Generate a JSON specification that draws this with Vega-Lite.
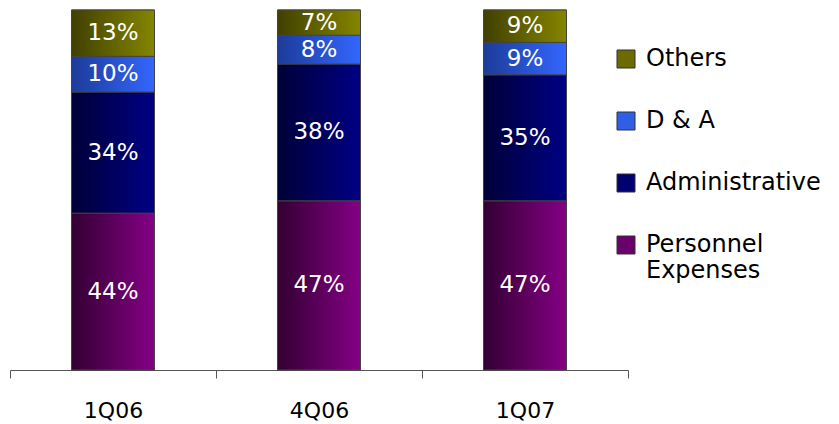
{
  "$schema": "https://vega.github.io/schema/vega-lite/v6.json",
  "width": 618,
  "height": 360,
  "autosize": {"type": "none"},
  "padding": {"left": 10, "top": 10, "right": 211, "bottom": 54},
  "background": "white",
  "config": {"view": {"stroke": null}, "font": "DejaVu Sans"},
  "data": {
    "values": [
      {"q": "1Q06", "cat": "Personnel Expenses", "ord": 1, "v": 44},
      {"q": "1Q06", "cat": "Administrative", "ord": 2, "v": 34},
      {"q": "1Q06", "cat": "D & A", "ord": 3, "v": 10},
      {"q": "1Q06", "cat": "Others", "ord": 4, "v": 13},
      {"q": "4Q06", "cat": "Personnel Expenses", "ord": 1, "v": 47},
      {"q": "4Q06", "cat": "Administrative", "ord": 2, "v": 38},
      {"q": "4Q06", "cat": "D & A", "ord": 3, "v": 8},
      {"q": "4Q06", "cat": "Others", "ord": 4, "v": 7},
      {"q": "1Q07", "cat": "Personnel Expenses", "ord": 1, "v": 47},
      {"q": "1Q07", "cat": "Administrative", "ord": 2, "v": 35},
      {"q": "1Q07", "cat": "D & A", "ord": 3, "v": 9},
      {"q": "1Q07", "cat": "Others", "ord": 4, "v": 9}
    ]
  },
  "transform": [
    {"stack": "v", "groupby": ["q"], "sort": [{"field": "ord"}], "offset": "normalize", "as": ["y0", "y1"]},
    {"calculate": "(datum.y0 + datum.y1) / 2", "as": "ym"},
    {"calculate": "datum.v + '%'", "as": "lbl"}
  ],
  "encoding": {
    "x": {
      "field": "q", "type": "nominal", "sort": ["1Q06", "4Q06", "1Q07"],
      "scale": {"paddingInner": 0, "paddingOuter": 0},
      "axis": {
        "title": null, "labelAngle": 0, "labelFontSize": 22, "labelColor": "black",
        "labelPadding": 22, "tickBand": "extent", "tickSize": 8, "tickColor": "#555",
        "domainColor": "#555", "labelFont": "DejaVu Sans"
      }
    }
  },
  "layer": [
    {
      "mark": {"type": "bar", "stroke": "#444", "strokeWidth": 1, "width": {"band": 0.403}},
      "encoding": {
        "y": {"field": "y0", "type": "quantitative", "scale": {"domain": [0, 1]}, "axis": null},
        "y2": {"field": "y1"},
        "color": {
          "field": "cat", "type": "nominal",
          "scale": {
            "domain": ["Others", "D & A", "Administrative", "Personnel Expenses"],
            "range": ["#6b6b00", "#2f5fe6", "#000070", "#6a006a"]
          },
          "legend": {
            "title": null, "orient": "none", "legendX": 604, "legendY": 37,
            "symbolType": "square", "symbolSize": 324, "symbolStrokeColor": "#333", "symbolStrokeWidth": 1,
            "symbolOpacity": 1,
            "labelFontSize": 24, "labelColor": "black", "labelFont": "DejaVu Sans",
            "rowPadding": 38, "labelOffset": 8, "labelLimit": 300, "labelLineHeight": 31,
            "labelExpr": "datum.label == 'Personnel Expenses' ? ['Personnel', 'Expenses'] : datum.label"
          }
        }
      }
    },
    {
      "mark": {"type": "bar", "stroke": "#444", "strokeWidth": 1, "width": {"band": 0.403}},
      "encoding": {
        "y": {"field": "y0", "type": "quantitative"},
        "y2": {"field": "y1"},
        "fill": {
          "condition": [
            {"test": "datum.cat === 'Others'", "value": {"gradient": "linear", "x1": 0, "y1": 0, "x2": 1, "y2": 0, "stops": [{"offset": 0, "color": "#404000"}, {"offset": 1, "color": "#858500"}]}},
            {"test": "datum.cat === 'D & A'", "value": {"gradient": "linear", "x1": 0, "y1": 0, "x2": 1, "y2": 0, "stops": [{"offset": 0, "color": "#1c3c99"}, {"offset": 1, "color": "#3366ff"}]}},
            {"test": "datum.cat === 'Administrative'", "value": {"gradient": "linear", "x1": 0, "y1": 0, "x2": 1, "y2": 0, "stops": [{"offset": 0, "color": "#000038"}, {"offset": 1, "color": "#000085"}]}}
          ],
          "value": {"gradient": "linear", "x1": 0, "y1": 0, "x2": 1, "y2": 0, "stops": [{"offset": 0, "color": "#330033"}, {"offset": 1, "color": "#850085"}]}
        }
      }
    },
    {
      "mark": {"type": "text", "color": "white", "fontSize": 23, "font": "DejaVu Sans"},
      "encoding": {
        "y": {"field": "ym", "type": "quantitative"},
        "text": {"field": "lbl", "type": "nominal"}
      }
    }
  ]
}
